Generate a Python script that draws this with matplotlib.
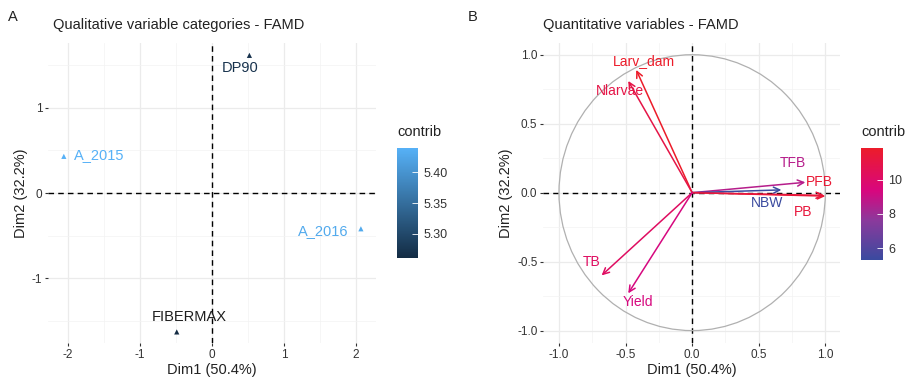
"""
Two-panel FAMD figure: qualitative variable categories (A) and
quantitative variables correlation circle (B), coloured by contribution.
"""

import matplotlib
matplotlib.use("Agg")
import matplotlib.pyplot as plt
import numpy as np
from matplotlib.colors import LinearSegmentedColormap, Normalize
from matplotlib.patches import Circle
from matplotlib.ticker import MultipleLocator

plt.rcParams["font.family"] = ["Liberation Sans", "DejaVu Sans"]
plt.rcParams["axes.unicode_minus"] = False

# ---- panel A: qualitative categories ----
cat_names = ["DP90", "A_2015", "A_2016", "FIBERMAX"]
cat_dim1 = [0.52, -2.06, 2.07, -0.49]
cat_dim2 = [1.615, 0.43, -0.42, -1.63]
cat_contrib = [5.27, 5.44, 5.43, 5.26]

# ---- panel B: quantitative variables ----
var_names = ["Larv_dam", "Nlarvae", "TFB", "PFB", "NBW", "PB", "TB", "Yield"]
var_dim1 = [-0.42, -0.48, 0.85, 1.00, 0.67, 0.99, -0.68, -0.48]
var_dim2 = [0.89, 0.81, 0.075, -0.025, 0.02, -0.02, -0.60, -0.73]
var_contrib = [11.85, 11.0, 8.6, 11.5, 5.3, 11.3, 10.2, 9.3]

xlabel = "Dim1 (50.4%)"
ylabel = "Dim2 (32.2%)"

# label anchor points (text centres), data coords
cat_label_xy = {"DP90": (0.39, 1.47), "A_2015": (-1.57, 0.45),
                "A_2016": (1.55, -0.45), "FIBERMAX": (-0.31, -1.46)}
var_label_xy = {"Larv_dam": (-0.36, 0.955), "Nlarvae": (-0.54, 0.74),
                "TFB": (0.755, 0.215), "PFB": (0.955, 0.08),
                "NBW": (0.56, -0.075), "PB": (0.835, -0.14),
                "TB": (-0.755, -0.50), "Yield": (-0.405, -0.79)}

cmap_a = LinearSegmentedColormap.from_list("gg", ["#132B43", "#56B1F7"])
cmap_b = LinearSegmentedColormap.from_list(
    "bmr", [(0.0, "#3A4A9F"), (0.35, "#8A3A9C"), (0.62, "#D8067E"), (1.0, "#EC1C2A")])

W, H = 916, 390
fig = plt.figure(figsize=(W / 100, H / 100), dpi=100)


def px_axes(x0, y0, x1, y1):
    return fig.add_axes([x0 / W, 1 - y1 / H, (x1 - x0) / W, (y1 - y0) / H])


def style_axes(ax, major, minor):
    for s in ax.spines.values():
        s.set_visible(False)
    ax.xaxis.set_major_locator(MultipleLocator(major[0]))
    ax.yaxis.set_major_locator(MultipleLocator(major[1]))
    ax.xaxis.set_minor_locator(MultipleLocator(minor[0]))
    ax.yaxis.set_minor_locator(MultipleLocator(minor[1]))
    ax.grid(True, which="major", color="#EBEBEB", lw=0.9)
    ax.grid(True, which="minor", color="#F3F3F3", lw=0.5)
    ax.set_axisbelow(True)
    ax.tick_params(which="major", length=2.5, width=0.8, color="#333333",
                   labelcolor="#333333", labelsize=8.5, pad=1.5)
    ax.tick_params(which="minor", length=0)
    ax.axhline(0, color="black", ls=(0, (4, 3)), lw=1.0, zorder=1)
    ax.axvline(0, color="black", ls=(0, (4, 3)), lw=1.0, zorder=1)
    ax.set_xlabel(xlabel, fontsize=10.5, color="#222222", labelpad=2)
    ax.set_ylabel(ylabel, fontsize=10.5, color="#222222", labelpad=3)


def add_colorbar(mappable, x0, y0, x1, y1, ticks, fmt):
    cax = px_axes(x0, y0, x1, y1)
    cb = fig.colorbar(mappable, cax=cax)
    cb.outline.set_visible(False)
    cb.set_ticks(ticks)
    cb.set_ticklabels([fmt.format(t) for t in ticks])
    cax.tick_params(length=4, color="white", width=0.6, labelsize=9,
                    labelcolor="#333333", pad=4, direction="in")
    fig.text(x0 / W, 1 - (y0 - 16) / H, "contrib", fontsize=10.5,
             color="#222222", ha="left", va="center")


# ---------------- panel A ----------------
axA = px_axes(48, 43, 376, 343)
style_axes(axA, (1, 1), (0.5, 0.5))
axA.set_xlim(-2.28, 2.28)
axA.set_ylim(-1.76, 1.76)
normA = Normalize(min(cat_contrib), max(cat_contrib))
scA = axA.scatter(cat_dim1, cat_dim2, c=cat_contrib, cmap=cmap_a, norm=normA,
                  marker="^", s=14, zorder=3, linewidths=0)
for name, c in zip(cat_names, cat_contrib):
    lx, ly = cat_label_xy[name]
    col = "#1E1E1E" if name == "FIBERMAX" else cmap_a(normA(c))
    axA.text(lx, ly, name, color=col, fontsize=10.5, ha="center", va="center", zorder=4)
axA.set_title("Qualitative variable categories - FAMD", fontsize=10.5,
              loc="left", x=0.015, pad=10, color="#222222")
add_colorbar(scA, 397, 148, 418, 258, [5.30, 5.35, 5.40], "{:.2f}")

# ---------------- panel B ----------------
axB = px_axes(543, 43, 840, 343)
style_axes(axB, (0.5, 0.5), (0.25, 0.25))
axB.set_xlim(-1.12, 1.11)
axB.set_ylim(-1.09, 1.085)
axB.add_patch(Circle((0, 0), 1, fill=False, color="#B0B0B0", lw=0.9, zorder=2))
normB = Normalize(min(var_contrib), max(var_contrib))
for name, x, y, c in zip(var_names, var_dim1, var_dim2, var_contrib):
    col = cmap_b(normB(c))
    axB.annotate("", xy=(x, y), xytext=(0, 0), zorder=3,
                 arrowprops=dict(arrowstyle="->,head_length=0.45,head_width=0.22",
                                 color=col, lw=1.1, shrinkA=0, shrinkB=0))
    lx, ly = var_label_xy[name]
    axB.text(lx, ly, name, color=col, fontsize=10, ha="center", va="center", zorder=4)
smB = plt.cm.ScalarMappable(norm=normB, cmap=cmap_b)
axB.set_title("Quantitative variables - FAMD", fontsize=10.5,
              loc="left", x=0.0, pad=10, color="#222222")
add_colorbar(smB, 861, 148, 883, 260, [6, 8, 10], "{:d}")

fig.text(8 / W, 1 - 17 / H, "A", fontsize=10.5, va="center", color="#222222")
fig.text(468 / W, 1 - 17 / H, "B", fontsize=10.5, va="center", color="#222222")

fig.savefig("out.png", dpi=100)
